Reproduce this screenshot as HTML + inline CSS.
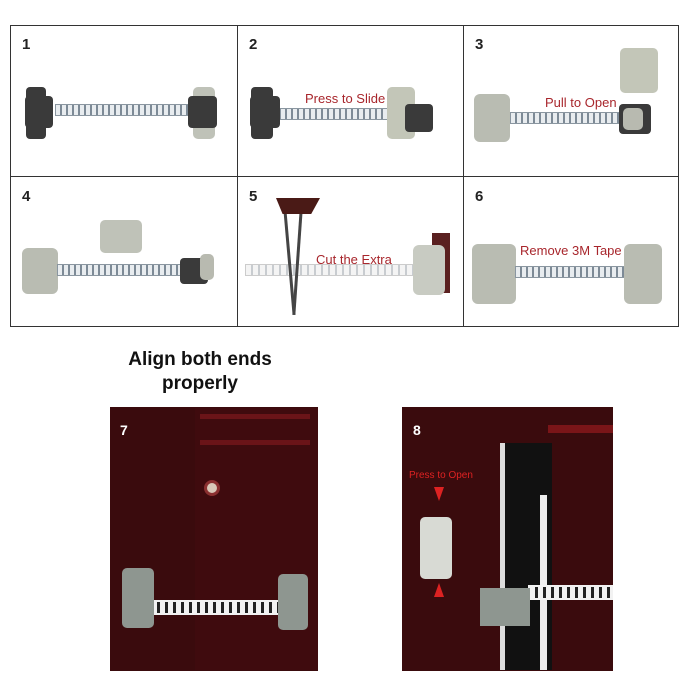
<!DOCTYPE html>
<html><head><meta charset="utf-8"><style>
*{margin:0;padding:0;box-sizing:border-box}
body{width:690px;height:700px;background:#fff;position:relative;overflow:hidden;font-family:"Liberation Sans",sans-serif}
.a{position:absolute}
.cell{position:absolute;border:1px solid #333;background:#fff}
.num{position:absolute;font-weight:bold;font-size:15px;color:#222}
.strap{position:absolute;height:12px;background:repeating-linear-gradient(90deg,#e8ecef 0 4px,#7d8a96 4px 6px);border:1px solid #8a96a0}
.dk{position:absolute;background:#3a3a3a;border-radius:4px}
.lt{position:absolute;background:#c9c7bd;border-radius:5px}
.tp{position:absolute;background:#b9bcb2;border-radius:6px}
.red{position:absolute;color:#a8262c;font-size:13px}
.ws{position:absolute;height:15px;background:repeating-linear-gradient(90deg,#f2f2f2 0 5px,#222 5px 8px);border:2px solid #f2f2f2}
</style></head><body>
<div class="cell" style="left:10px;top:25px;width:228px;height:152px"></div>
<div class="cell" style="left:237px;top:25px;width:227px;height:152px"></div>
<div class="cell" style="left:463px;top:25px;width:216px;height:152px"></div>
<div class="cell" style="left:10px;top:176px;width:228px;height:151px"></div>
<div class="cell" style="left:237px;top:176px;width:227px;height:151px"></div>
<div class="cell" style="left:463px;top:176px;width:216px;height:151px"></div>
<div class="num" style="left:22px;top:36px">1</div>
<div class="num" style="left:249px;top:36px">2</div>
<div class="num" style="left:475px;top:36px">3</div>
<div class="num" style="left:22px;top:188px">4</div>
<div class="num" style="left:249px;top:188px">5</div>
<div class="num" style="left:475px;top:188px">6</div>
<!-- 1 -->
<div class="strap" style="left:55px;top:104px;width:135px"></div>
<div class="dk" style="left:26px;top:87px;width:20px;height:52px"></div>
<div class="dk" style="left:25px;top:96px;width:28px;height:32px"></div>
<div class="lt" style="left:193px;top:87px;width:22px;height:52px;background:#bfc2b8"></div>
<div class="dk" style="left:188px;top:96px;width:29px;height:32px"></div>
<!-- 2 -->
<div class="strap" style="left:280px;top:108px;width:120px"></div>
<div class="dk" style="left:251px;top:87px;width:22px;height:52px"></div>
<div class="dk" style="left:250px;top:96px;width:30px;height:32px"></div>
<div class="lt" style="left:387px;top:87px;width:28px;height:52px;background:#c3c6b8"></div>
<div class="dk" style="left:405px;top:104px;width:28px;height:28px"></div>
<div class="red" style="left:305px;top:91px">Press to Slide</div>
<!-- 3 -->
<div class="tp" style="left:474px;top:94px;width:36px;height:48px"></div>
<div class="strap" style="left:510px;top:112px;width:115px"></div>
<div class="dk" style="left:619px;top:104px;width:32px;height:30px"></div>
<div class="lt" style="left:623px;top:108px;width:20px;height:22px;background:#b8bab0"></div>
<div class="lt" style="left:620px;top:48px;width:38px;height:45px;background:#c3c6b8"></div>
<div class="red" style="left:545px;top:95px">Pull to Open</div>
<!-- 4 -->
<div class="tp" style="left:22px;top:248px;width:36px;height:46px"></div>
<div class="strap" style="left:57px;top:264px;width:125px"></div>
<div class="dk" style="left:180px;top:258px;width:28px;height:26px"></div>
<div class="lt" style="left:200px;top:254px;width:14px;height:26px;background:#b8bab0"></div>
<div class="lt" style="left:100px;top:220px;width:42px;height:33px;background:#bfc2b8"></div>
<!-- 5 -->
<div class="strap" style="left:245px;top:264px;width:175px;background:repeating-linear-gradient(90deg,#f4f4f4 0 5px,#c8ccd0 5px 7px);border-color:#ccc"></div>
<div class="a" style="left:288px;top:210px;width:3px;height:105px;background:#444;transform:rotate(-5deg)"></div>
<div class="a" style="left:296px;top:210px;width:3px;height:105px;background:#444;transform:rotate(4deg)"></div>
<div class="a" style="left:276px;top:198px;width:44px;height:16px;background:#4a1a16;clip-path:polygon(0 0,100% 0,80% 100%,15% 100%)"></div>
<div class="a" style="left:432px;top:233px;width:18px;height:60px;background:#5a2020"></div>
<div class="tp" style="left:413px;top:245px;width:32px;height:50px;background:#c8cbc2"></div>
<div class="red" style="left:316px;top:252px">Cut the Extra</div>
<!-- 6 -->
<div class="tp" style="left:472px;top:244px;width:44px;height:60px"></div>
<div class="strap" style="left:515px;top:266px;width:112px"></div>
<div class="tp" style="left:624px;top:244px;width:38px;height:60px"></div>
<div class="red" style="left:520px;top:243px">Remove 3M Tape</div>
<!-- heading -->
<div class="a" style="left:100px;top:348px;width:200px;text-align:center;font-weight:bold;font-size:19px;line-height:24px;color:#111">Align both ends<br>properly</div>
<!-- 7 -->
<div class="a" style="left:110px;top:407px;width:208px;height:264px;background:#3a0b0d"></div>
<div class="a" style="left:195px;top:408px;width:123px;height:262px;background:#3f0b0e"></div>
<div class="a" style="left:200px;top:414px;width:110px;height:5px;background:#6a1418"></div>
<div class="a" style="left:200px;top:440px;width:110px;height:5px;background:#6a1418"></div>
<div class="a" style="left:204px;top:480px;width:16px;height:16px;border-radius:50%;background:#d9c9b9;border:3px solid #8a3030"></div>
<div class="a" style="left:120px;top:422px;color:#fff;font-size:14px;font-weight:bold">7</div>
<div class="ws" style="left:150px;top:600px;width:130px"></div>
<div class="lt" style="left:122px;top:568px;width:32px;height:60px;background:#8e9690"></div>
<div class="lt" style="left:278px;top:574px;width:30px;height:56px;background:#8e9690"></div>
<!-- 8 -->
<div class="a" style="left:402px;top:407px;width:211px;height:264px;background:#3a0b0d"></div>
<div class="a" style="left:500px;top:443px;width:52px;height:227px;background:#111;border-left:5px solid #ddd"></div>
<div class="a" style="left:540px;top:495px;width:7px;height:175px;background:#eee"></div>
<div class="a" style="left:548px;top:425px;width:65px;height:8px;background:#7a1518"></div>
<div class="a" style="left:413px;top:422px;color:#fff;font-size:14px;font-weight:bold">8</div>
<div class="a" style="left:409px;top:470px;color:#d22;font-size:10px">Press to Open</div>
<div class="a" style="left:434px;top:487px;width:0;height:0;border-left:5px solid transparent;border-right:5px solid transparent;border-top:14px solid #d22"></div>
<div class="lt" style="left:420px;top:517px;width:32px;height:62px;background:#d8dad4"></div>
<div class="a" style="left:434px;top:583px;width:0;height:0;border-left:5px solid transparent;border-right:5px solid transparent;border-bottom:14px solid #d22"></div>
<div class="ws" style="left:528px;top:585px;width:85px"></div>
<div class="a" style="left:480px;top:588px;width:50px;height:38px;background:#8e9690"></div>
</body></html>
